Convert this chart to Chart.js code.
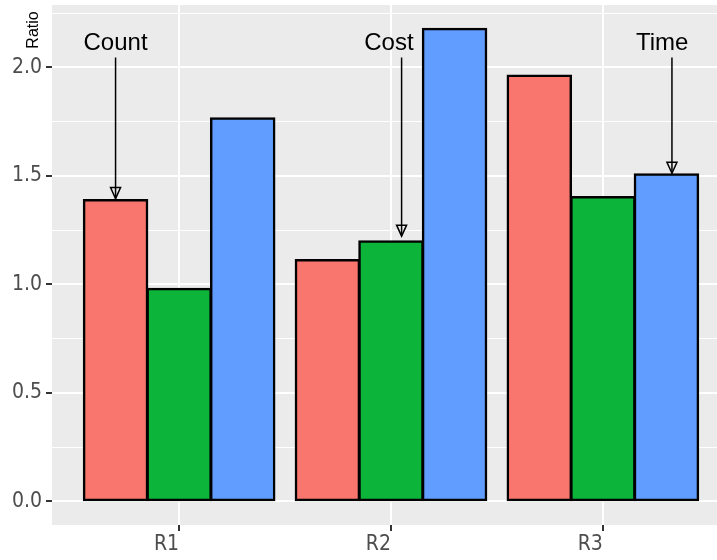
<!DOCTYPE html>
<html>
<head>
<meta charset="utf-8">
<script src="https://cdn.jsdelivr.net/npm/chart.js@4"></script>
<style>
  html, body { margin: 0; padding: 0; background: #fff; overflow: hidden; }
  canvas { display: block; }
</style>
</head>
<body>
<canvas id="chart" width="740" height="560"></canvas>
<script>
// Data
const categories = ['R1', 'R2', 'R3'];
const countValues = [1.388, 1.112, 1.962];
const costValues = [0.979, 1.199, 1.402];
const timeValues = [1.765, 2.178, 1.507];
const yTicks = [0, 0.25, 0.5, 0.75, 1, 1.25, 1.5, 1.75, 2, 2.25];

// Labelled arrows (data coordinates)
const notes = [
  { text: 'Count', tx: 0.70, ty: 2.11, ax: 0.70, from: 2.045, to: 1.395 },
  { text: 'Cost',  tx: 1.99, ty: 2.11, ax: 2.05, from: 2.045, to: 1.222 },
  { text: 'Time',  tx: 3.28, ty: 2.11, ax: 3.326, from: 2.045, to: 1.512 }
];

const tickFont = { family: "'Liberation Sans Narrow', 'DejaVu Sans Condensed', 'Open Sans', sans-serif", size: 21 };

// turn a value list into {x, y} points, one per category
function toPoints(values) {
  return values.map((v, i) => ({ x: i + 1, y: v }));
}

function isMajor(v) {
  return Math.abs(v * 2 - Math.round(v * 2)) < 1e-6;
}

// grey panel behind everything
const panelBg = {
  id: 'panelBg',
  beforeDraw(chart) {
    const { ctx, chartArea } = chart;
    ctx.save();
    ctx.fillStyle = '#EBEBEB';
    ctx.fillRect(chartArea.left, chartArea.top, chartArea.right - chartArea.left, chartArea.bottom - chartArea.top);
    ctx.restore();
  }
};

// y axis title at the top and the arrow annotations
const extras = {
  id: 'extras',
  afterDatasetsDraw(chart) {
    const { ctx, scales } = chart;
    ctx.save();
    ctx.fillStyle = '#000';
    ctx.font = "16px 'Liberation Sans', Arial, sans-serif";
    ctx.translate(34, 30);
    ctx.rotate(-Math.PI / 2);
    ctx.textAlign = 'center';
    ctx.textBaseline = 'middle';
    ctx.fillText('Ratio', 0, 0);
    ctx.restore();

    ctx.save();
    ctx.font = "24px 'Liberation Sans', Arial, sans-serif";
    ctx.textAlign = 'center';
    ctx.textBaseline = 'middle';
    ctx.fillStyle = '#000';
    ctx.strokeStyle = '#000';
    ctx.lineWidth = 1.5;
    notes.forEach(n => {
      ctx.fillText(n.text, scales.x.getPixelForValue(n.tx), scales.y.getPixelForValue(n.ty));
      const x = scales.x.getPixelForValue(n.ax);
      const y1 = scales.y.getPixelForValue(n.from);
      const y2 = scales.y.getPixelForValue(n.to);
      ctx.beginPath();
      ctx.moveTo(x, y1);
      ctx.lineTo(x, y2);
      ctx.stroke();
      ctx.beginPath();
      ctx.moveTo(x, y2);
      ctx.lineTo(x - 5, y2 - 11);
      ctx.lineTo(x + 5, y2 - 11);
      ctx.closePath();
      ctx.stroke();
    });
    ctx.restore();
  }
};

const barStyle = { borderColor: '#000', borderWidth: 2.5, borderSkipped: false, inflateAmount: 1, categoryPercentage: 0.9, barPercentage: 1.0 };

new Chart(document.getElementById('chart').getContext('2d'), {
  type: 'bar',
  data: {
    datasets: [
      Object.assign({ label: 'Count', data: toPoints(countValues), backgroundColor: '#F8766D' }, barStyle),
      Object.assign({ label: 'Cost', data: toPoints(costValues), backgroundColor: '#0CB43A' }, barStyle),
      Object.assign({ label: 'Time', data: toPoints(timeValues), backgroundColor: '#619CFF' }, barStyle)
    ]
  },
  options: {
    responsive: false,
    animation: false,
    devicePixelRatio: 1,
    layout: { padding: { top: 5, right: 10, left: 0, bottom: 0 } },
    plugins: { legend: { display: false }, tooltip: { enabled: false } },
    scales: {
      x: {
        type: 'linear',
        min: 0.4,
        max: 3.6,
        offset: false,
        afterBuildTicks: scale => { scale.ticks = categories.map((c, i) => ({ value: i + 1 })); },
        afterFit: scale => { scale.height = 35; scale.paddingLeft = 0; scale.paddingRight = 0; },
        border: { display: false },
        grid: { offset: false, color: '#fff', lineWidth: 2, tickColor: '#333', tickLength: 6, drawTicks: true },
        ticks: {
          font: tickFont,
          color: '#4D4D4D',
          align: 'end',
          padding: 1,
          maxRotation: 0,
          autoSkip: false,
          callback: (v) => categories[Math.round(v) - 1]
        }
      },
      y: {
        min: -0.109,
        max: 2.287,
        afterBuildTicks: scale => { scale.ticks = yTicks.map(v => ({ value: v })); },
        afterFit: scale => { scale.width = 52; scale.paddingTop = 0; scale.paddingBottom = 0; },
        border: { display: false },
        grid: {
          color: '#fff',
          lineWidth: c => (c.tick && isMajor(c.tick.value)) ? 2 : 1,
          tickColor: c => (c.tick && isMajor(c.tick.value)) ? '#333' : 'rgba(0,0,0,0)',
          tickLength: 6
        },
        ticks: {
          font: tickFont,
          color: '#4D4D4D',
          padding: 4,
          autoSkip: false,
          callback: (v) => isMajor(v) ? v.toFixed(1) : ''
        }
      }
    }
  },
  plugins: [panelBg, extras]
});
</script>
</body>
</html>
